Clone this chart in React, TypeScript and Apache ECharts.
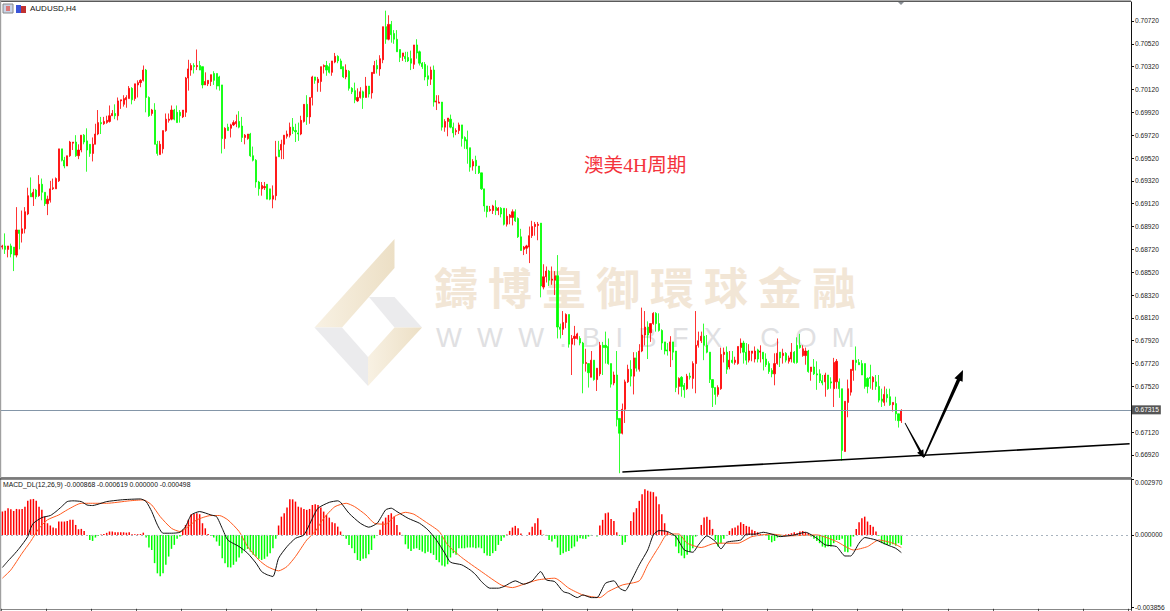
import React, { useEffect, useRef } from "react";
import * as echarts from "echarts";

// Candles: [open, close, low, high], in units of 0.0001
const candlesA = [
[6874,6875,6872,6876],[6875,6872,6868,6886],[6872,6875,6865,6875],[6875,6868,6865,6877],[6874,6867,6853,6874],[6867,6889,6865,6909],[6889,6886,6872,6889],[6886,6890,6878,6906],[6890,6905,6886,6909],[6903,6919,6902,6926],
[6921,6918,6918,6935],[6918,6922,6910,6925],[6924,6918,6916,6925],[6919,6929,6918,6937],[6929,6922,6915,6934],[6922,6912,6910,6922],[6912,6916,6902,6919],[6915,6925,6913,6932],[6925,6926,6924,6934],[6925,6934,6925,6935],
[6932,6960,6931,6960],[6960,6950,6949,6960],[6950,6945,6943,6953],[6945,6954,6945,6954],[6954,6966,6953,6967],[6965,6966,6959,6966],[6966,6954,6953,6972],[6954,6959,6951,6964],[6959,6972,6957,6972],[6972,6966,6964,6973],
[6967,6959,6940,6978],[6964,6956,6953,6964],[6956,6964,6949,6970],[6964,6973,6964,6982],[6973,6983,6972,6994],[6983,6982,6973,6988],[6982,6984,6981,6988],[6983,6985,6982,6989],[6984,6989,6983,6998],[6989,6991,6989,6994],
[6991,6989,6986,6999],[6989,7002,6985,7005],[7002,7003,6995,7003],[6999,7004,6997,7007],[7003,7005,6996,7007],[7004,7013,7004,7015],[7013,7003,6999,7014],[7004,7017,7002,7017],[7016,7018,7005,7020],[7018,7020,7014,7021],
[7020,7029,7019,7033],[7029,7005,6992,7030],[7005,6989,6988,7006],[6991,6994,6989,6995],[6994,6964,6964,7000],[6964,6956,6954,6967],[6955,6964,6955,6967],[6960,6976,6956,6976],[6976,6986,6975,6991],[6985,6986,6983,6991],
[6986,6994,6985,6998],[6994,6986,6985,6995],[6992,6983,6983,6998],[6992,6989,6983,6994],[6988,6994,6987,6994],[6992,7022,6988,7023],[7022,7030,7011,7038],[7029,7033,7024,7035],[7033,7032,7026,7035],[7032,7033,7029,7047],
[7033,7029,7029,7037],[7032,7016,7013,7032],[7016,7019,7016,7027],[7017,7020,7015,7020],[7019,7025,7015,7025],[7026,7020,7016,7028],[7026,7015,7012,7026],[7023,7015,7011,7024],[7016,6969,6956,7016],[6969,6978,6960,6979],
[6979,6976,6976,6982],[6978,6981,6970,6982],[6981,6983,6980,6985],[6982,6984,6979,6990],[6984,6979,6978,6993],[6980,6970,6966,6988],[6970,6972,6964,6973],[6969,6973,6968,6973],[6973,6954,6953,6974],[6954,6950,6949,6962],
[6950,6931,6926,6951],[6931,6925,6919,6932],[6925,6928,6919,6931],[6926,6927,6924,6931],[6929,6916,6916,6929],[6925,6916,6915,6925],[6916,6919,6908,6928],[6919,6953,6915,6967],[6959,6953,6953,6967],[6959,6964,6951,6968],
[6964,6972,6951,6972],[6971,6973,6969,6976],[6972,6979,6970,6983],[6979,6976,6973,6987],[6976,6975,6966,6982],[6974,6973,6967,6983],[6973,6985,6972,6989],
];
const candlesB = [
[6984,6999,6983,6999],[6999,6988,6981,7007],[6988,7005,6982,7005],[7005,7023,6998,7024],[7023,7020,7017,7023],[7018,7021,7010,7023],[7019,7032,7010,7032],[7032,7033,7026,7034],[7033,7029,7024,7037],[7032,7027,7026,7035],
[7027,7037,7024,7037],[7036,7041,7035,7044],[7041,7037,7035,7042],[7037,7030,7030,7039],[7032,7023,7022,7032],[7023,7029,7021,7034],[7028,7013,7011,7029],[7013,7010,7008,7014],[7011,7003,7000,7018],[7002,7005,7001,7013],
[7005,7010,7004,7014],[7010,7005,6995,7011],[7005,7015,7005,7023],[7015,7008,7005,7015],[7009,7027,7004,7027],[7026,7033,7026,7037],[7033,7030,7026,7038],[7030,7039,7024,7042],[7038,7067,7035,7067],[7067,7056,7052,7081],
[7056,7069,7055,7077],[7069,7060,7053,7072],[7061,7056,7052,7064],[7056,7045,7045,7064],[7047,7040,7036,7047],[7041,7044,7037,7044],[7041,7039,7036,7045],[7040,7037,7036,7045],[7039,7035,7029,7046],[7034,7051,7030,7051],
[7051,7044,7039,7056],[7045,7035,7033,7046],[7035,7032,7030,7036],[7034,7023,7020,7036],[7024,7021,7015,7033],[7021,7029,7016,7032],[7029,7001,6997,7033],[7001,7002,6994,7007],[7000,7001,7000,7007],[7001,6979,6976,7001],
[6979,6984,6975,6986],[6984,6987,6971,6987],[6986,6979,6978,6990],[6979,6974,6970,6983],[6975,6976,6972,6978],[6976,6981,6973,6983],[6981,6969,6962,6981],[6970,6967,6960,6971],[6968,6960,6947,6976],[6961,6944,6940,6961],
[6945,6949,6941,6951],[6950,6945,6938,6954],[6945,6939,6938,6945],[6939,6925,6924,6939],[6925,6910,6905,6925],[6910,6905,6900,6910],[6906,6907,6905,6910],[6906,6910,6903,6911],[6909,6906,6902,6915],[6906,6908,6902,6909],
[6908,6903,6900,6909],[6908,6894,6893,6908],[6894,6901,6892,6908],[6900,6902,6894,6903],[6900,6905,6893,6907],[6905,6897,6896,6907],[6899,6883,6882,6900],[6883,6871,6871,6890],[6872,6874,6867,6875],[6873,6875,6868,6876],
[6874,6884,6860,6892],[6884,6892,6882,6897],[6892,6894,6884,6896],[6893,6894,6880,6896],
];
const candlesC = [
[6895,6840,6830,6895],[6839,6848,6837,6859],[6848,6853,6843,6857],[6853,6845,6840,6854],[6845,6846,6841,6857],[6845,6849,6832,6853],[6849,6804,6794,6867],[6804,6802,6794,6807],[6802,6808,6797,6818],[6808,6815,6803,6816],
[6815,6789,6786,6815],[6789,6794,6762,6797],[6794,6796,6788,6805],[6794,6798,6793,6799],[6794,6790,6788,6796],[6790,6772,6746,6791],[6772,6773,6765,6785],[6772,6764,6751,6772],[6760,6775,6760,6783],[6775,6758,6757,6775],
[6758,6768,6748,6768],[6763,6788,6761,6791],[6788,6786,6762,6791],[6788,6786,6772,6800],[6787,6772,6771,6794],[6772,6754,6751,6772],[6755,6762,6753,6765],[6762,6723,6717,6783],[6724,6711,6676,6724],[6711,6732,6710,6737],
[6732,6756,6720,6758],[6756,6767,6755,6771],[6767,6761,6752,6775],[6761,6777,6745,6782],[6777,6768,6765,6782],[6767,6783,6765,6789],[6783,6797,6782,6821],[6797,6804,6788,6818],[6804,6797,6776,6809],[6799,6807,6791,6807],
[6807,6816,6806,6817],[6816,6807,6800,6817],[6807,6801,6800,6816],[6801,6790,6784,6802],[6791,6783,6780,6791],[6784,6783,6779,6790],[6783,6791,6769,6796],[6791,6782,6775,6791],[6783,6751,6747,6783],[6752,6759,6745,6760],
[6760,6752,6743,6761],[6753,6749,6742,6755],[6750,6761,6749,6763],[6761,6760,6758,6764],[6759,6772,6750,6774],[6772,6788,6746,6818],[6788,6792,6786,6800],[6792,6796,6790,6800],[6796,6788,6775,6807],[6788,6782,6781,6797],
[6782,6758,6755,6782],[6758,6751,6734,6758],[6751,6745,6736,6751],[6745,6751,6743,6753],
];
const candlesD = [
[6750,6780,6749,6786],[6780,6782,6773,6786],[6782,6767,6763,6787],[6769,6775,6767,6783],[6775,6773,6772,6783],[6773,6775,6771,6778],[6772,6787,6771,6787],[6786,6790,6781,6794],[6790,6782,6772,6792],[6782,6775,6771,6790],
[6775,6783,6773,6789],[6781,6783,6774,6783],[6776,6783,6773,6787],[6784,6776,6773,6785],[6782,6783,6773,6788],[6782,6776,6766,6782],[6776,6771,6769,6781],[6772,6765,6763,6774],[6766,6763,6760,6768],[6763,6772,6753,6781],
[6772,6781,6771,6794],[6782,6777,6769,6782],[6779,6781,6772,6785],[6781,6775,6773,6782],[6774,6777,6772,6779],[6776,6782,6773,6790],[6782,6773,6772,6783],[6788,6773,6772,6795],[6788,6786,6785,6798],[6779,6785,6778,6788],
[6779,6783,6771,6786],[6783,6765,6764,6784],[6765,6769,6757,6769],[6769,6763,6762,6776],[6763,6762,6749,6774],[6763,6757,6755,6767],[6757,6755,6753,6762],[6756,6762,6743,6764],[6762,6750,6749,6762],[6756,6755,6750,6760],
[6750,6773,6734,6777],[6756,6774,6750,6776],[6756,6750,6742,6759],[6750,6696,6687,6750],[6695,6739,6695,6739],[6738,6750,6725,6758],[6747,6767,6744,6767],[6766,6775,6757,6775],[6775,6773,6766,6787],[6773,6771,6771,6776],
[6772,6762,6762,6775],[6772,6752,6750,6772],[6759,6752,6746,6760],[6760,6759,6750,6771],[6756,6760,6749,6761],[6756,6752,6749,6762],[6752,6740,6738,6762],[6741,6739,6734,6750],[6738,6745,6735,6752],[6745,6742,6738,6750],
[6743,6736,6735,6750],[6736,6738,6730,6738],[6737,6728,6722,6743],[6728,6722,6716,6728],[6722,6731,6720,6732],
];

// MACD histogram, in units of 0.00001
const histogram = [
124,129,142,136,127,138,136,138,150,181,189,191,181,150,133,97,62,50,39,35,71,71,71,74,80,80,53,30,32,21,
-5,-27,-32,-14,-5,2,5,11,18,18,14,14,14,14,12,14,4,4,4,5,12,
-14,-67,-80,-150,-204,-219,-204,-159,-115,-74,-53,-21,-9,
27,53,80,110,112,115,110,62,35,5,
-4,-14,-35,-58,-124,-150,-172,-173,-159,-142,-120,-97,-80,-74,-89,-106,-115,-127,-133,-127,-115,-97,-71,-21,
50,97,115,145,189,189,177,150,145,138,133,138,159,163,159,145,124,106,92,67,62,44,18,
-5,-21,-53,-71,-97,-133,-138,-127,-124,-103,-80,-18,-4,
27,71,92,106,115,97,53,14,
-5,-50,-74,-85,-74,-71,-80,-89,-97,-89,-97,-106,-133,-145,-163,-168,-156,-120,-97,-106,-71,
-71,-71,-67,-67,-67,-71,-67,-71,-97,-110,-112,-97,-85,-53,-32,-14,
2,21,39,48,35,7,0,0,14,44,62,89,27,2,
-5,-27,-35,-21,-67,-106,-97,-89,-85,-71,-62,-35,-18,-21,-21,-9,-4,0,-9,
50,80,115,119,85,74,14,
-5,-53,-39,0,
74,120,142,181,216,242,235,230,227,204,163,110,62,18,4,
-5,-62,-97,-110,-124,-106,-89,-71,-9,0,
53,92,97,80,32,
-27,-62,-44,-21,-5,
21,35,39,50,67,58,48,44,27,21,14,5,2,
-5,-27,-39,-32,-14,-4,0,
2,5,9,14,9,18,21,14,9,
-9,-21,-32,-44,-62,-67,-62,-62,-44,-27,-27,-21,-89,-92,-62,-9,
32,67,89,97,71,53,44,18,
-5,-44,-50,-53,-53,-50,-57,-44,-53,
];

// MACD lines: [candle index, value in units of 0.00001]
const macdLine = [
[0,-173],[2,-138],[4,-106],[6,-71],[9,-9],[10,35],[11,62],[14,92],[17,103],[19,124],[21,150],[23,177],[25,181],[28,177],[30,159],[32,156],[35,168],[37,177],[42,186],[45,189],[49,191],[51,177],[53,124],[55,53],[57,9],[60,9],[63,14],[65,44],[67,106],[70,124],[74,106],[76,97],[78,35],[80,-27],[84,-62],[87,-97],[90,-150],[92,-195],[94,-212],[96,-221],[98,-124],[101,-62],[104,-18],[107,0],[110,88],[112,142],[116,173],[119,181],[120,173],[123,115],[127,62],[130,41],[133,62],[136,133],[138,142],[140,124],[144,88],[148,62],[151,27],[154,-27],[157,-97],[159,-145],[163,-159],
[166,-186],[168,-212],[170,-248],[173,-283],[176,-283],[178,-274],[182,-244],[185,-262],[188,-244],[191,-195],[193,-239],[196,-248],[199,-301],[201,-310],[204,-333],[206,-319],[209,-333],[211,-333],[214,-257],[217,-244],[219,-283],[221,-297],[223,-248],[226,-159],[229,-80],[231,0],[233,23],[236,18],[239,-9],[242,-80],[245,-92],[247,-53],[250,-5],[253,-35],[255,-74],[257,-39],[262,-27],[264,4],[267,4],[270,14],[274,0],[276,-9],[281,0],[285,14],[289,-18],[292,-53],[296,-62],[299,-112],[301,-112],[304,-44],[306,-14],[310,-27],[314,-53],[317,-71],[319,-94],
];
const signalLine = [
[0,-230],[3,-186],[7,-97],[10,-35],[13,35],[16,80],[20,106],[23,133],[28,168],[33,168],[37,168],[45,181],[50,186],[53,159],[56,97],[60,35],[63,18],[66,44],[69,80],[74,103],[77,103],[80,80],[84,18],[87,-62],[91,-133],[94,-168],[98,-191],[101,-168],[104,-115],[108,-27],[111,18],[114,88],[118,150],[122,168],[125,150],[129,106],[132,62],[136,57],[139,97],[143,120],[146,110],[150,71],[155,18],[158,-53],[163,-120],
[170,-195],[177,-266],[181,-280],[185,-262],[190,-239],[196,-230],[201,-283],[206,-319],[212,-333],[215,-301],[220,-266],[226,-244],[229,-159],[233,-62],[236,4],[240,5],[243,-44],[248,-67],[253,-44],[261,-44],[266,-9],[273,4],[279,-5],[289,0],[296,-35],[302,-80],[307,-62],[311,-27],[316,-44],[319,-67],
];

const supportLine = [[220,0.66771],[400,0.67018]];
const currentPrice = 0.67315;
const priceTicks = [0.7072,0.7052,0.7032,0.7012,0.6992,0.6972,0.6952,0.6932,0.6912,0.6892,0.6872,0.6852,0.6832,0.6812,0.6792,0.6772,0.6752,0.6712,0.6692];
const macdTicks = [-0.003856,0,0.00297];
const SLOTS = 401;

const RED = "#ff0000";
const GREEN = "#00ff00";
const axisFont = { fontFamily: "Liberation Sans", fontSize: 6.6, color: "#222" };

export default function App() {
  const ref = useRef<HTMLDivElement>(null);
  useEffect(() => {
    document.body.style.margin = "0";
    const chart = echarts.init(ref.current!, null, { renderer: "svg" });
    const candles = [...candlesA, ...candlesB, ...candlesC, ...candlesD].map((r) => r.map((v) => v / 10000));
    const cats = Array.from({ length: SLOTS }, (_, i) => String(i));
    const scaled = (rows: number[][]) => rows.map(([i, v]) => [i, v / 100000]);
    const tan = {
      type: "linear", x: 0, y: 0, x2: 1, y2: 0,
      colorStops: [{ offset: 0, color: "#f8f1e3" }, { offset: 1, color: "#ecdfc5" }],
    };
    const wm = (points: number[][], fill: any) => ({ type: "polygon", z: -10, silent: true, shape: { points }, style: { fill } });
    chart.setOption({
      animation: false,
      backgroundColor: "#ffffff",
      grid: [
        { left: 1, top: 2, width: 1130, height: 475, show: false },
        { left: 1, top: 479, width: 1130, height: 130, show: false },
      ],
      xAxis: [
        { type: "category", gridIndex: 0, data: cats, axisLabel: { show: false }, axisTick: { show: false }, axisLine: { lineStyle: { color: "#111", width: 1 } }, splitLine: { show: false } },
        { type: "category", gridIndex: 1, data: cats, axisLabel: { show: false }, axisTick: { show: true, interval: 15, length: 2, lineStyle: { color: "#333" } }, axisLine: { onZero: false, lineStyle: { color: "#888", width: 1 } }, splitLine: { show: false } },
      ],
      yAxis: [
        {
          type: "value", gridIndex: 0, position: "right", min: 0.66727, max: 0.70886, scale: true,
          axisLine: { show: true, lineStyle: { color: "#111", width: 1 } },
          axisTick: { show: true, length: 3, lineStyle: { color: "#111" }, customValues: [...priceTicks] },
          axisLabel: { ...axisFont, margin: 4, formatter: (v: number) => v.toFixed(5), customValues: priceTicks },
          splitLine: { show: false },
        },
        {
          type: "value", gridIndex: 1, position: "right", min: -0.003925, max: 0.00297,
          axisLine: { show: true, lineStyle: { color: "#111", width: 1 } },
          axisTick: { show: true, length: 3, lineStyle: { color: "#111" }, customValues: macdTicks },
          axisLabel: { ...axisFont, margin: 4, verticalAlignMaxLabel: "top", formatter: (v: number) => v.toFixed(6), customValues: macdTicks },
          splitLine: { show: false },
        },
      ],
      series: [
        {
          type: "candlestick", xAxisIndex: 0, yAxisIndex: 0, data: candles, barWidth: 1.6, large: false, progressive: 0,
          itemStyle: { color: RED, color0: GREEN, borderColor: RED, borderColor0: GREEN, borderWidth: 0.8 },
        },
        {
          type: "line", xAxisIndex: 0, yAxisIndex: 0, data: supportLine, symbol: "none", lineStyle: { color: "#000", width: 1.6 }, z: 5,
          markLine: {
            silent: true, symbol: "none", animation: false, precision: 5,
            lineStyle: { color: "#8496a8", width: 1, type: "solid" },
            label: { position: "end", distance: 1, formatter: currentPrice.toFixed(5), fontFamily: "Liberation Sans", fontSize: 6.6, color: "#fff", backgroundColor: "#555", padding: [1, 2, 1, 3] },
            data: [{ yAxis: currentPrice }],
          },
        },
        {
          type: "bar", xAxisIndex: 1, yAxisIndex: 1, data: histogram.map((v) => v / 100000), barWidth: 1.5,
          itemStyle: { color: (p: any) => (p.value >= 0 ? RED : GREEN) },
          markLine: {
            silent: true, symbol: "none", animation: false, label: { show: false },
            lineStyle: { color: "#a9b4bf", width: 1, type: [2, 3] },
            data: [{ yAxis: 0 }],
          },
        },
        { type: "line", xAxisIndex: 1, yAxisIndex: 1, data: scaled(signalLine), symbol: "none", smooth: 0.2, lineStyle: { color: "#ff5a1e", width: 1 }, z: 4 },
        { type: "line", xAxisIndex: 1, yAxisIndex: 1, data: scaled(macdLine), symbol: "none", smooth: 0.2, lineStyle: { color: "#111", width: 1 }, z: 5 },
      ],
      graphic: [
        wm([[314.5, 327.5], [394.5, 239], [394.5, 268], [342, 327.5]], tan),
        wm([[314.5, 327.5], [342, 327.5], [368, 357], [368, 386]], "#ebebed"),
        wm([[369, 297], [394.5, 297], [422, 327.5], [394.5, 327.5]], "#ebebed"),
        wm([[368, 357], [394.5, 327.5], [422, 327.5], [368, 386]], tan),
        { type: "text", z: -10, silent: true, x: 434, y: 264, style: { text: "鑄 博 皇 御 環 球 金 融", font: "bold 44px 'Noto Sans CJK TC'", fill: "#f2e6d6" } },
        { type: "text", z: -10, silent: true, x: 436, y: 324, style: { text: "W  W  W  .  B  I  B  F  X  .  C  O  M", font: "27.4px 'Liberation Sans'", fill: "#e0e0e2" } },
        { type: "text", x: 584, y: 156, style: { text: "澳美4H周期", font: "19.6px 'Liberation Serif','Noto Sans CJK SC'", fill: "#f4333c" } },
        { type: "text", x: 30, y: 4, style: { text: "AUDUSD,H4", font: "8px 'Liberation Sans'", fill: "#111" } },
        { type: "text", x: 3, y: 481, style: { text: "MACD_DL(12,26,9) -0.000868 -0.000619 0.000000 -0.000498", font: "6.8px 'Liberation Sans'", fill: "#111" } },
        { type: "rect", shape: { x: 3, y: 4, width: 10, height: 9 }, style: { fill: "#c9d3e6", stroke: "#888", lineWidth: 1 } },
        { type: "rect", shape: { x: 6, y: 6, width: 4, height: 5 }, style: { fill: "#d77" } },
        { type: "rect", shape: { x: 16, y: 5, width: 5, height: 8 }, style: { fill: "#3a55d8" } },
        { type: "rect", shape: { x: 21, y: 6, width: 5, height: 7 }, style: { fill: "#c03030" } },
        { type: "polygon", shape: { points: [[897, 1], [905, 1], [901, 5]] }, style: { fill: "#8a8f96" } },
        { type: "rect", z: 90, shape: { x: 0, y: 0.5, width: 1131, height: 1.5 }, style: { fill: "#5a5a5a" } },
        { type: "rect", z: 90, shape: { x: 0, y: 0, width: 1.2, height: 611 }, style: { fill: "#a0a0a0" } },
        { type: "rect", z: 90, shape: { x: 0, y: 477.2, width: 1132, height: 1.4 }, style: { fill: "#a8a8a8" } },
        { type: "rect", z: 90, shape: { x: 0, y: 478.6, width: 1132, height: 0.9 }, style: { fill: "#222" } },
        { type: "polygon", z: 100, shape: { points: [[905.35, 422.8], [921.25, 450.4], [923.3, 449.3], [924, 458], [917.1, 452.7], [919.15, 451.6], [904.65, 423.2]] }, style: { fill: "#000" } },
        { type: "polygon", z: 100, shape: { points: [[924.7, 457.3], [960.1, 380.7], [962.6, 381.8], [963, 370], [954.4, 378.2], [956.9, 379.3], [923.3, 456.7]] }, style: { fill: "#000" } },
      ],
    });
    return () => chart.dispose();
  }, []);
  return <div ref={ref} style={{ position: "fixed", left: 0, top: 0, width: 1170, height: 611, background: "#fff" }} />;
}
